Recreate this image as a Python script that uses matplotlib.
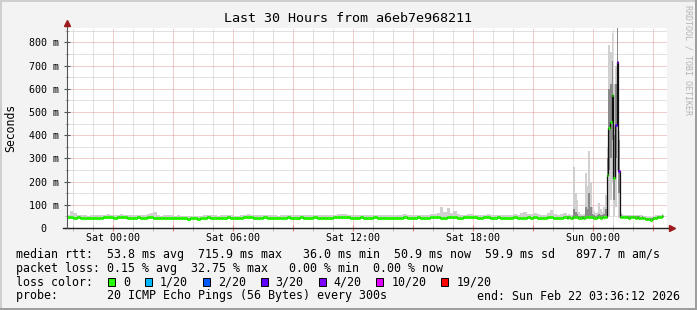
import numpy as np
import matplotlib
matplotlib.use('Agg')
import matplotlib.pyplot as plt
import matplotlib.dates as mdates
from matplotlib.patches import Rectangle
from matplotlib.ticker import MultipleLocator, FuncFormatter

# ---- data (ms) ----
start = np.datetime64('2026-02-20T21:40')
span_hours = 30

# 10 minute samples, Fri 21:40 .. Sat 22:40
median_early = [
    47, 46, 45, 46, 44, 45, 43, 44, 45, 44,
    45, 46, 47, 46, 45, 47, 48, 46, 45, 44,
    45, 46, 45, 44, 46, 47, 45, 44, 43, 44,
    45, 44, 43, 44, 42, 41, 40, 42, 41, 40,
    42, 44, 46, 45, 43, 42, 44, 45, 46, 43,
    42, 41, 44, 46, 47, 46, 45, 44, 45, 46,
    45, 44, 43, 42, 44, 45, 46, 44, 43, 45,
    46, 45, 44, 45, 46, 44, 43, 44, 45, 44,
    46, 47, 48, 47, 46, 45, 44, 45, 46, 45,
    44, 45, 46, 44, 43, 44, 45, 43, 42, 44,
    45, 46, 44, 43, 45, 46, 44, 43, 45, 46,
    47, 46, 45, 44, 46, 47, 46, 45, 44, 46,
    47, 48, 46, 45, 44, 46, 47, 45, 44, 46,
    45, 44, 43, 45, 46, 44, 43, 45, 46, 45,
    46, 45, 44, 45, 46, 47, 45, 44, 45, 46,
]
smoke_hi_early = [
    58, 72, 66, 55, 54, 56, 53, 55, 56, 54,
    55, 57, 60, 56, 55, 58, 62, 57, 55, 54,
    56, 58, 55, 54, 60, 63, 70, 56, 53, 55,
    55, 54, 53, 55, 52, 51, 50, 53, 52, 51,
    53, 56, 58, 56, 54, 53, 55, 57, 58, 54,
    53, 52, 56, 58, 60, 57, 56, 55, 57, 58,
    56, 55, 54, 53, 56, 57, 58, 55, 54, 57,
    58, 56, 55, 57, 58, 55, 54, 56, 57, 55,
    58, 60, 62, 59, 57, 56, 55, 57, 58, 56,
    55, 57, 58, 55, 54, 56, 57, 55, 54, 56,
    57, 60, 56, 55, 57, 58, 56, 55, 57, 60,
    60, 64, 90, 68, 86, 64, 74, 60, 56, 58,
    60, 62, 58, 56, 55, 58, 60, 57, 56, 58,
    57, 56, 55, 57, 60, 58, 66, 70, 62, 60,
    65, 60, 57, 58, 66, 76, 62, 58, 60, 64,
]
smoke_lo_early = [
    42, 41, 40, 41, 39, 40, 38, 39, 40, 39,
    40, 41, 42, 41, 40, 42, 43, 41, 40, 39,
    40, 41, 40, 39, 41, 42, 40, 39, 38, 39,
    40, 39, 38, 39, 37, 36, 36, 37, 36, 36,
    37, 39, 41, 40, 38, 37, 39, 40, 41, 38,
    37, 36, 39, 41, 42, 41, 40, 39, 40, 41,
    40, 39, 38, 37, 39, 40, 41, 39, 38, 40,
    41, 40, 39, 40, 41, 39, 38, 39, 40, 39,
    41, 42, 43, 42, 41, 40, 39, 40, 41, 40,
    39, 40, 41, 39, 38, 39, 40, 38, 37, 39,
    40, 41, 39, 38, 40, 41, 39, 38, 40, 41,
    42, 41, 40, 39, 41, 42, 41, 40, 39, 41,
    42, 43, 41, 40, 39, 41, 42, 40, 39, 41,
    40, 39, 38, 40, 41, 39, 38, 40, 41, 40,
    41, 40, 39, 40, 41, 42, 40, 39, 40, 41,
]

# 5 minute samples, Sat 22:40 .. Sun 03:30
median_late = [
    45, 46, 44, 45, 47, 48, 46, 45, 44, 46, 45,
    47, 48, 49, 47, 46, 45, 44, 46, 47, 45, 46, 48, 47,
    228, 430, 458, 573, 215, 444, 717, 247,
    48, 47, 46, 47, 46, 45, 46, 47, 46, 45, 46, 45, 44,
    45, 43, 40, 38, 37, 36, 38, 41, 44, 46, 47, 48, 50,
]
smoke_hi_late = [
    56, 60, 58, 57, 265, 150, 120, 70, 62, 58, 60,
    235, 180, 333, 200, 90, 75, 65, 70, 107, 80, 70, 90, 142,
    350, 790, 760, 840, 620, 700, 870, 420,
    65, 60, 58, 57, 56, 58, 57, 56, 55, 57, 56, 55, 54,
    55, 53, 50, 48, 47, 47, 48, 50, 54, 56, 57, 58, 60,
]
smoke_lo_late = [
    40, 41, 39, 40, 42, 43, 41, 40, 39, 41, 40,
    42, 43, 44, 42, 41, 40, 39, 41, 42, 40, 41, 43, 42,
    45, 50, 120, 200, 50, 90, 250, 45,
    43, 42, 41, 42, 41, 40, 41, 42, 41, 40, 41, 40, 39,
    40, 38, 35, 34, 33, 33, 34, 36, 39, 41, 42, 43, 45,
]
mid_hi_late = [
    50, 52, 49, 50, 80, 70, 60, 52, 50, 53, 51,
    90, 80, 150, 90, 60, 55, 52, 56, 60, 55, 54, 60, 80,
    300, 600, 620, 720, 400, 620, 860, 380,
    54, 52, 51, 52, 51, 50, 51, 52, 51, 50, 51, 50, 49,
    50, 48, 45, 43, 42, 42, 43, 46, 49, 51, 52, 53, 55,
]
mid_lo_late = [
    43, 44, 42, 43, 45, 46, 44, 43, 42, 44, 43,
    45, 46, 48, 45, 44, 43, 42, 44, 45, 43, 44, 46, 50,
    120, 250, 300, 380, 120, 300, 500, 150,
    46, 45, 44, 45, 44, 43, 44, 45, 44, 43, 44, 43, 42,
    43, 41, 38, 36, 35, 35, 36, 39, 42, 44, 45, 46, 48,
]
loss_late = [
    0, 0, 0, 0, 0, 0, 0, 0, 0, 0, 0,
    0, 0, 0, 0, 0, 0, 0, 0, 0, 0, 0, 0, 0,
    0, 0, 0, 0, 0, 3, 4, 4,
    0, 0, 0, 0, 0, 0, 0, 0, 0, 0, 0, 0, 0,
    0, 0, 0, 0, 0, 0, 0, 0, 0, 0, 0, 0, 0,
]

loss_steps = [0, 1, 2, 3, 4, 10, 19]
loss_labels = ['0', '1/20', '2/20', '3/20', '4/20', '10/20', '19/20']
loss_colors = ['#26ff00', '#00b8ff', '#0059ff', '#5e00ff', '#7e00ff', '#dd00ff', '#ff0000']

title = 'Last 30 Hours from a6eb7e968211'
legend_lines = [
    'median rtt:  53.8 ms avg  715.9 ms max   36.0 ms min  50.9 ms now  59.9 ms sd   897.7 m am/s',
    'packet loss: 0.15 % avg  32.75 % max   0.00 % min  0.00 % now',
]
probe_text = 'probe:       20 ICMP Echo Pings (56 Bytes) every 300s'
end_text = 'end: Sun Feb 22 03:36:12 2026'

# ---- build time edges ----
t_early = start + np.arange(len(median_early)) * np.timedelta64(10, 'm')
t_late = t_early[-1] + np.timedelta64(10, 'm') + np.arange(len(median_late)) * np.timedelta64(5, 'm')
t_all = np.concatenate([t_early, t_late])
edges = mdates.date2num(np.append(t_all, t_late[-1] + np.timedelta64(5, 'm')))
edges_late = edges[len(t_early):]

median = np.array(median_early + median_late, dtype=float)
smoke_hi = np.array(smoke_hi_early + smoke_hi_late, dtype=float)
smoke_lo = np.array(smoke_lo_early + smoke_lo_late, dtype=float)
loss = np.array([0] * len(median_early) + loss_late)

W, H = 697, 310
MONO = 'DejaVu Sans Mono'

fig = plt.figure(figsize=(W / 100, H / 100), dpi=100)
fig.patch.set_facecolor('#f3f3f3')


def px_rect(x, y, w, h, color, ec='none', lw=0):
    fig.add_artist(Rectangle((x / W, 1 - (y + h) / H), w / W, h / H,
                             transform=fig.transFigure, facecolor=color,
                             edgecolor=ec, linewidth=lw))


# frame shading
px_rect(0, 0, W, 2, '#cfcfcf')
px_rect(0, 0, 2, H, '#cfcfcf')
px_rect(0, H - 2, W, 2, '#9e9e9e')
px_rect(W - 2, 0, 2, H, '#9e9e9e')

ax = fig.add_axes([66.7 / W, 1 - 228 / H, 600 / W, 200 / H])
ax.set_facecolor('white')
x0 = mdates.date2num(start)
ax.set_xlim(x0, x0 + span_hours / 24)
ax.set_ylim(0, 862)

# grid
ax.xaxis.set_major_locator(mdates.HourLocator(byhour=range(0, 24, 3)))
ax.xaxis.set_minor_locator(mdates.HourLocator())
ax.yaxis.set_major_locator(MultipleLocator(100))
ax.yaxis.set_minor_locator(MultipleLocator(50))
ax.set_axisbelow(True)
ax.grid(which='major', color='#e69a9a', linestyle=(0, (1, 1)), linewidth=0.72)
ax.grid(which='minor', color='#c4c4c4', linestyle=(0, (1, 1)), linewidth=0.72)


def xfmt(v, pos):
    d = mdates.num2date(v)
    return d.strftime('%a %H:%M') if d.hour % 6 == 0 else ''


def yfmt(v, pos):
    return '0  ' if v == 0 else '%d m' % v


ax.xaxis.set_major_formatter(FuncFormatter(xfmt))
ax.yaxis.set_major_formatter(FuncFormatter(yfmt))
ax.tick_params(which='both', direction='inout', labelsize=7.2)
ax.tick_params(axis='x', which='major', length=4, color='#e08080', pad=1.5)
ax.tick_params(axis='x', which='minor', length=4, color='#b0b0b0')
ax.tick_params(axis='y', which='major', length=4, color='#555555', pad=3.2)
ax.tick_params(axis='y', which='minor', length=3, color='#b0b0b0')
for lab in ax.get_xticklabels() + ax.get_yticklabels():
    lab.set_family(MONO)
for s in ax.spines.values():
    s.set_visible(False)

# smoke
ax.stairs(smoke_hi, edges, baseline=smoke_lo, fill=True, color='#d0d0d0', zorder=2)
ax.stairs(np.array(mid_hi_late, float), edges_late, baseline=np.array(mid_lo_late, float),
          fill=True, color='#8a8a8a', zorder=2.1)

# median line and loss-coloured marks
ax.stairs(median, edges, baseline=None, color='#111111', linewidth=0.9, zorder=3)
bucket = np.searchsorted(loss_steps, loss, side='right') - 1
for b, c in enumerate(loss_colors):
    m = bucket == b
    if m.any():
        ax.hlines(median[m], edges[:-1][m], edges[1:][m], colors=c, linewidth=2.2, zorder=4)

# axes with arrows
ax.plot([-0.006, 1.006], [0, 0], transform=ax.transAxes, color='#222222', lw=1.0,
        clip_on=False, zorder=6)
ax.plot([0, 0], [0, 1.025], transform=ax.transAxes, color='#555555', lw=0.8,
        clip_on=False, zorder=6)
ax.plot(1.008, 0, marker='>', ms=4.5, color='#9b1a1a', transform=ax.transAxes,
        clip_on=False, zorder=7)
ax.plot(0, 1.027, marker='^', ms=4.5, color='#9b1a1a', transform=ax.transAxes,
        clip_on=False, zorder=7)

# texts
fig.text(348 / W, 1 - 19 / H, title, family=MONO, size=9.6, ha='center', va='center')
fig.text(11 / W, 1 - 127.5 / H, 'Seconds', family=MONO, size=8.3, rotation=90,
         ha='center', va='center')
fig.text(688 / W, 1 - 60 / H, 'RRDTOOL / TOBI OETIKER', family=MONO, size=6,
         rotation=-90, ha='center', va='center', color='#b4b4b4')

line_y = [254.3, 268.3, 282.3, 296.0]
for txt, y in zip(legend_lines, line_y):
    fig.text(16 / W, 1 - y / H, txt, family=MONO, size=8.35, va='center')
fig.text(16 / W, 1 - line_y[2] / H, 'loss color:', family=MONO, size=8.35, va='center')
xpos = 108.0
for lab, c in zip(loss_labels, loss_colors):
    px_rect(xpos, line_y[2] - 4, 7, 8, c, ec='black', lw=0.7)
    fig.text((xpos + 15) / W, 1 - line_y[2] / H, lab, family=MONO, size=8.35, va='center')
    xpos += 15 + 6.97 * len(lab) + 15
fig.text(16 / W, 1 - line_y[3] / H, probe_text, family=MONO, size=8.35, va='center')
fig.text(680 / W, 1 - line_y[3] / H, end_text, family=MONO, size=8.35, va='center', ha='right')

fig.savefig('out.png', dpi=100, facecolor=fig.get_facecolor())
